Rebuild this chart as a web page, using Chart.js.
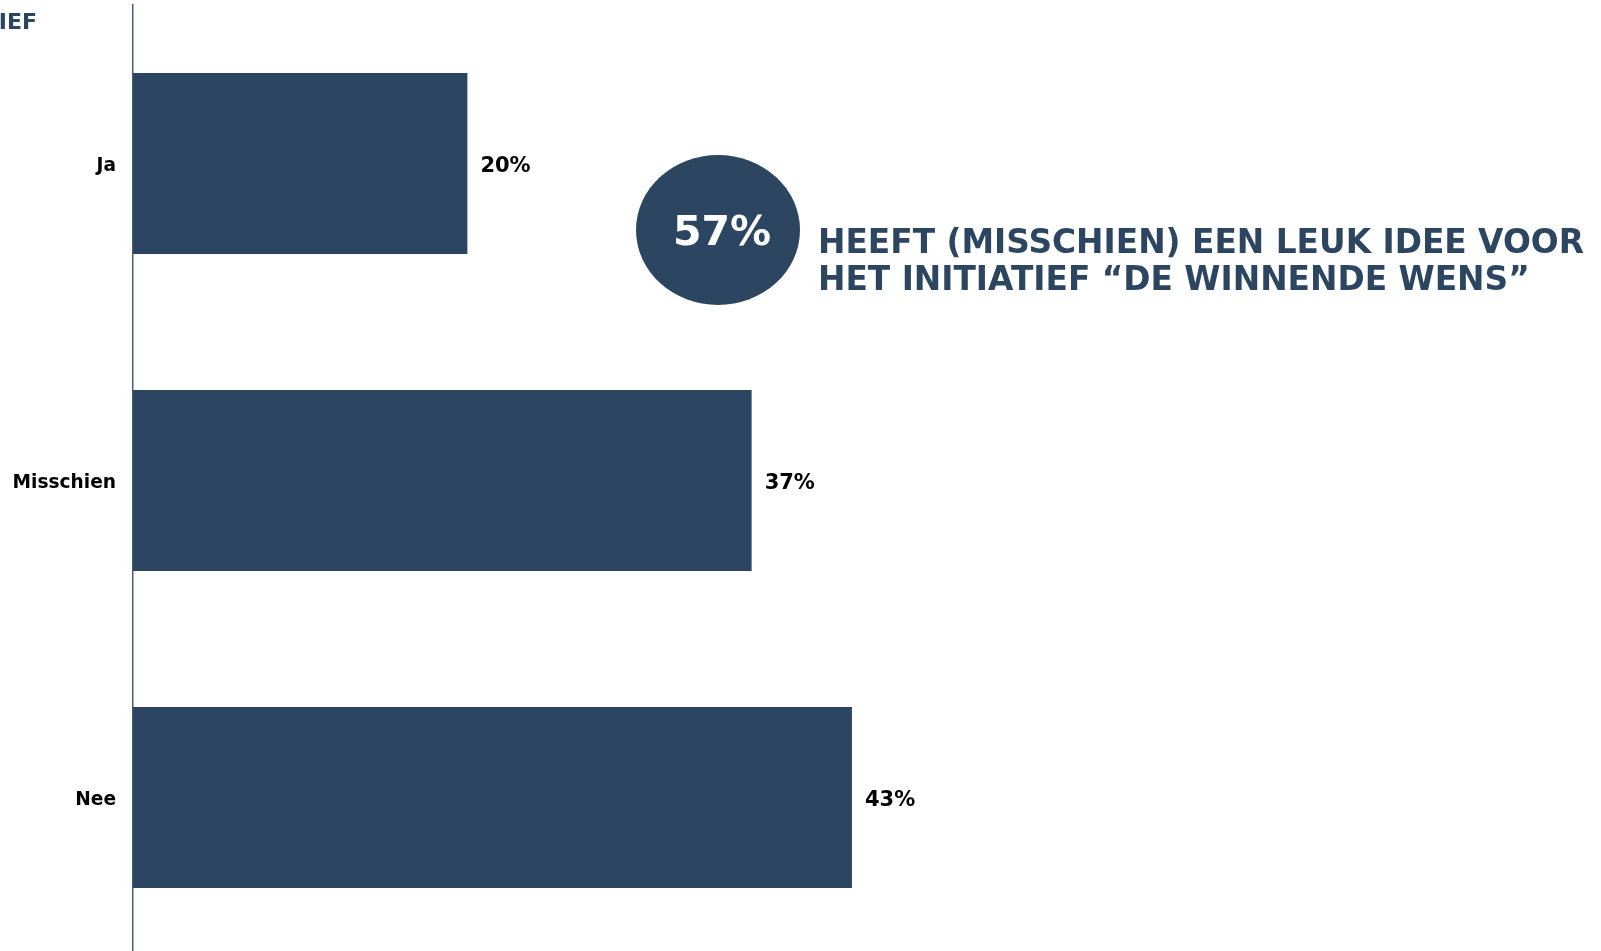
<!DOCTYPE html>
<html>
<head>
<meta charset="utf-8">
<script src="https://cdn.jsdelivr.net/npm/chart.js@4"></script>
<style>
  html, body { margin: 0; padding: 0; background: #fff; overflow: hidden; }
  #wrap { width: 1601px; height: 951px; overflow: hidden; }
</style>
</head>
<body>
<div id="wrap"><canvas id="chart" width="1601" height="956"></canvas></div>
<script>
const categories = ["Ja", "Misschien", "Nee"];
const values = [20, 37, 43];
const totalYes = "57%";
const titleLines = ["HEEFT (MISSCHIEN) EEN LEUK IDEE VOOR", "HET INITIATIEF \u201CDE WINNENDE WENS\u201D"];
const cutTitle = "IEF";

const navy = "#2c4661";
const font = "'DejaVu Sans', Verdana, sans-serif";

// value labels next to the bars + the circle and headline
const extras = {
  id: "extras",
  afterDatasetsDraw(chart) {
    const ctx = chart.ctx;
    const meta = chart.getDatasetMeta(0);
    ctx.save();
    ctx.fillStyle = "#000";
    ctx.font = "bold 21px " + font;
    ctx.textBaseline = "middle";
    ctx.textAlign = "left";
    meta.data.forEach((bar, i) => {
      ctx.fillText(values[i] + "%", bar.x + 13, bar.y + 3);
    });

    // cut-off title at the top left
    ctx.fillStyle = navy;
    ctx.font = "bold 22px " + font;
    ctx.textAlign = "right";
    ctx.fillText(cutTitle, 37, 23);

    // circle with the total
    ctx.beginPath();
    ctx.ellipse(718, 230, 82, 75, 0, 0, Math.PI * 2);
    ctx.fill();
    ctx.fillStyle = "#fff";
    ctx.font = "bold 41px " + font;
    ctx.textAlign = "center";
    ctx.fillText(totalYes, 722, 234);

    ctx.fillStyle = navy;
    ctx.font = "bold 32.8px " + font;
    ctx.textAlign = "left";
    titleLines.forEach((t, i) => ctx.fillText(t, 818, 244 + i * 37));
    ctx.restore();
  }
};

new Chart(document.getElementById("chart"), {
  type: "bar",
  data: {
    labels: categories,
    datasets: [{
      data: values,
      backgroundColor: navy,
      categoryPercentage: 1,
      barPercentage: 0.571
    }]
  },
  options: {
    indexAxis: "y",
    responsive: false,
    animation: false,
    layout: { autoPadding: false, padding: { top: 5, right: 0, bottom: 0, left: 0 } },
    plugins: { legend: { display: false }, tooltip: { enabled: false } },
    scales: {
      x: { display: false, min: 0, max: 87.8 },
      y: {
        afterFit: (scale) => {
          scale.width = 133;
          scale.paddingTop = 0;
          scale.paddingBottom = 0;
        },
        grid: { display: false, drawTicks: false },
        border: { display: true, color: "#4a5f78", width: 1.5 },
        ticks: {
          color: "#000",
          padding: 17,
          labelOffset: 3,
          font: { family: font, size: 18.6, weight: "bold" }
        }
      }
    }
  },
  plugins: [extras]
});
</script>
</body>
</html>
